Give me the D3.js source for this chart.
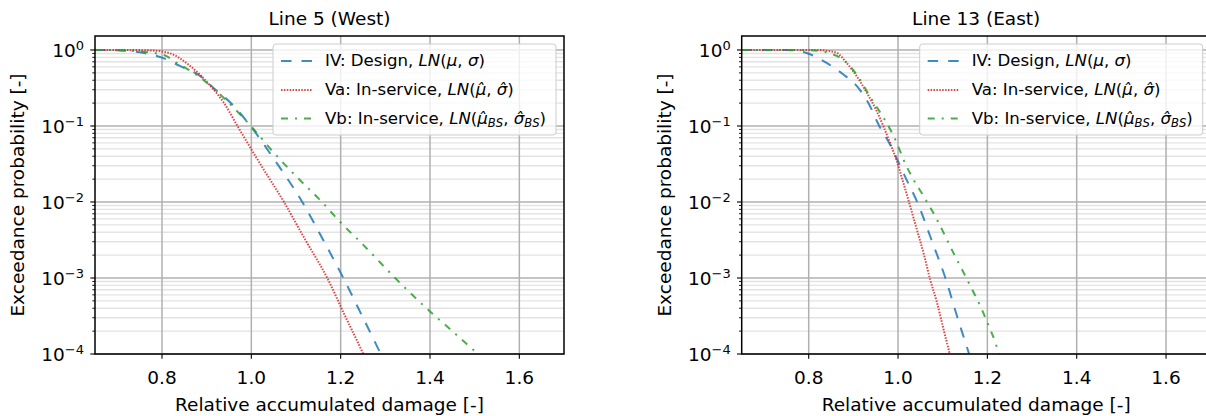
<!DOCTYPE html>
<html>
<head>
<meta charset="utf-8">
<script src="https://cdn.jsdelivr.net/npm/d3@7"></script>
<style>
    body { margin: 0; background: #fff; }
    svg { display: block; font-family: 'DejaVu Sans', sans-serif; }
</style>
</head>
<body>
<div id="vis"></div>
<script>
// Line 5 (West) - relative damage and exceedance probability per curve
const west_iv_d = [0.65, 0.70, 0.75, 0.80, 0.84, 0.885, 0.923, 0.953, 0.998, 1.05, 1.114, 1.16, 1.206, 1.25, 1.288, 1.31];
const west_iv_p = [1.0, 0.989, 0.933, 0.794, 0.617, 0.457, 0.288, 0.204, 0.1, 0.0372, 0.01, 0.00324, 0.001, 0.0003, 0.000105, 0.000056];
const west_va_d = [0.65, 0.72, 0.77, 0.80, 0.818, 0.863, 0.908, 0.938, 0.969, 1.02, 1.073, 1.12, 1.17, 1.21, 1.249, 1.27];
const west_va_p = [1.0, 1.0, 0.989, 0.955, 0.904, 0.617, 0.339, 0.204, 0.1, 0.0316, 0.01, 0.00324, 0.001, 0.000316, 0.000105, 0.000056];
const west_vb_d = [0.65, 0.70, 0.75, 0.804, 0.833, 0.878, 0.908, 0.945, 0.999, 1.05, 1.10, 1.158, 1.20, 1.25, 1.322, 1.40, 1.45, 1.503, 1.53];
const west_vb_p = [1.0, 0.993, 0.955, 0.859, 0.676, 0.468, 0.339, 0.214, 0.1, 0.0447, 0.0219, 0.01, 0.00537, 0.00275, 0.001, 0.000363, 0.0002, 0.000105, 0.000074];

// Line 13 (East)
const east_iv_d = [0.65, 0.75, 0.77, 0.80, 0.84, 0.877, 0.907, 0.933, 0.958, 0.98, 1.002, 1.02, 1.043, 1.075, 1.106, 1.132, 1.158, 1.17];
const east_iv_p = [1.0, 1.0, 0.982, 0.891, 0.676, 0.479, 0.339, 0.204, 0.1, 0.0603, 0.0324, 0.0191, 0.01, 0.00316, 0.001, 0.000316, 0.000105, 0.000063];
const east_va_d = [0.65, 0.82, 0.84, 0.862, 0.885, 0.907, 0.93, 0.952, 0.967, 0.982, 0.997, 1.012, 1.027, 1.042, 1.057, 1.072, 1.087, 1.102, 1.115, 1.125];
const east_va_p = [1.0, 1.0, 0.977, 0.923, 0.676, 0.457, 0.275, 0.158, 0.1, 0.0603, 0.0347, 0.0178, 0.0089, 0.00437, 0.00214, 0.00095, 0.00048, 0.00021, 0.000105, 0.000063];
const east_vb_d = [0.65, 0.78, 0.82, 0.85, 0.87, 0.892, 0.915, 0.937, 0.96, 0.982, 0.997, 1.012, 1.034, 1.057, 1.087, 1.124, 1.147, 1.169, 1.184, 1.203, 1.218, 1.225, 1.235];
const east_vb_p = [1.0, 1.0, 0.977, 0.891, 0.794, 0.617, 0.407, 0.245, 0.151, 0.0912, 0.0603, 0.0363, 0.02, 0.012, 0.00589, 0.00214, 0.00117, 0.00065, 0.00043, 0.000234, 0.000141, 0.000105, 0.000076];

const titles = ['Line 5 (West)', 'Line 13 (East)'];
const x_ticks = [0.8, 1.0, 1.2, 1.4, 1.6];
const y_exponents = [0, -1, -2, -3, -4];

const width = 1206;
const height = 416;
const ax_w = 469;
const ax_top = 36;
const ax_bottom = 354;
const lefts = [95, 741.7];

const styles = [
    { color: '#1f77b4', dash: '10.5,10' },
    { color: '#d62728', dash: '1.5,1.4' },
    { color: '#2ca02c', dash: '7,7,2,7' }
];

const svg = d3.select('#vis')
    .append('svg')
    .attr('width', width)
    .attr('height', height);

function zip(d, p) {
    return d.map((v, i) => [v, p[i]]);
}

const panels = [
    [zip(west_iv_d, west_iv_p), zip(west_va_d, west_va_p), zip(west_vb_d, west_vb_p)],
    [zip(east_iv_d, east_iv_p), zip(east_va_d, east_va_p), zip(east_vb_d, east_vb_p)]
];

function addLegendText(txt, parts) {
    parts.forEach(p => {
        const t = txt.append('tspan').text(p.s);
        if (p.it) t.attr('font-style', 'italic');
        if (p.sub) t.attr('font-size', '11.6px').attr('dy', 3.5);
        if (p.up) t.attr('dy', -3.5);
    });
}

const legend_parts = [
    [{ s: 'IV: Design, ' }, { s: 'LN', it: 1 }, { s: '(' }, { s: 'μ', it: 1 }, { s: ', ' }, { s: 'σ', it: 1 }, { s: ')' }],
    [{ s: 'Va: In-service, ' }, { s: 'LN', it: 1 }, { s: '(' }, { s: 'μ\u0302', it: 1 }, { s: ', ' }, { s: 'σ\u0302', it: 1 }, { s: ')' }],
    [{ s: 'Vb: In-service, ' }, { s: 'LN', it: 1 }, { s: '(' }, { s: 'μ\u0302', it: 1 }, { s: 'BS', it: 1, sub: 1 },
        { s: ', ', up: 1 }, { s: 'σ\u0302', it: 1 }, { s: 'BS', it: 1, sub: 1 }, { s: ')', up: 1 }]
];

function renderPanel(k) {
    const left = lefts[k];
    const right = left + ax_w;
    const x = d3.scaleLinear().domain([0.65, 1.7]).range([left, right]);
    const y = d3.scaleLog().domain([1e-4, Math.pow(10, 0.184)]).range([ax_bottom, ax_top]);
    const g = svg.append('g');

    // minor grid
    const minor = [];
    for (let e = -4; e < 0; e++) {
        for (let m = 2; m <= 9; m++) minor.push(m * Math.pow(10, e));
    }
    g.selectAll('.minor').data(minor).enter().append('line')
        .attr('x1', left).attr('x2', right)
        .attr('y1', d => y(d)).attr('y2', d => y(d))
        .attr('stroke', '#e3e3e3')
        .attr('stroke-width', 1.4);

    // major grid
    g.selectAll('.gy').data(y_exponents).enter().append('line')
        .attr('x1', left).attr('x2', right)
        .attr('y1', d => y(Math.pow(10, d))).attr('y2', d => y(Math.pow(10, d)))
        .attr('stroke', '#b0b0b0')
        .attr('stroke-width', 1.5);
    g.selectAll('.gx').data(x_ticks).enter().append('line')
        .attr('x1', d => x(d)).attr('x2', d => x(d))
        .attr('y1', ax_top).attr('y2', ax_bottom)
        .attr('stroke', '#b0b0b0')
        .attr('stroke-width', 1.5);

    // curves
    const clipId = 'clip' + k;
    svg.append('clipPath').attr('id', clipId)
        .append('rect')
        .attr('x', left).attr('y', ax_top)
        .attr('width', ax_w).attr('height', ax_bottom - ax_top);

    const line = d3.line()
        .x(d => x(d[0]))
        .y(d => y(d[1]))
        .curve(d3.curveMonotoneX);

    panels[k].forEach((s, i) => {
        g.append('path')
            .attr('d', line(s))
            .attr('clip-path', 'url(#' + clipId + ')')
            .attr('fill', 'none')
            .attr('stroke', styles[i].color)
            .attr('stroke-opacity', 0.85)
            .attr('stroke-width', 2)
            .attr('stroke-dasharray', styles[i].dash);
    });

    // legend
    const lx = right - 8 - 283;
    g.append('rect')
        .attr('x', lx).attr('y', 44)
        .attr('width', 283).attr('height', 91)
        .attr('rx', 3)
        .attr('fill', 'white')
        .attr('fill-opacity', 0.8)
        .attr('stroke', '#cccccc')
        .attr('stroke-width', 1);
    const rows = [61, 90, 118.5];
    rows.forEach((ry, i) => {
        g.append('line')
            .attr('x1', lx + 8).attr('x2', lx + 39)
            .attr('y1', ry).attr('y2', ry)
            .attr('stroke', styles[i].color)
            .attr('stroke-opacity', 0.85)
            .attr('stroke-width', 2)
            .attr('stroke-dasharray', styles[i].dash);
        const txt = g.append('text')
            .attr('x', lx + 52)
            .attr('y', ry + 5)
            .attr('font-size', '16.6px')
            .attr('fill', 'black');
        addLegendText(txt, legend_parts[i]);
    });

    // spines
    g.append('rect')
        .attr('x', left).attr('y', ax_top)
        .attr('width', ax_w).attr('height', ax_bottom - ax_top)
        .attr('fill', 'none')
        .attr('stroke', 'black')
        .attr('stroke-width', 1.5);

    // y ticks
    g.selectAll('.ymin').data(minor).enter().append('line')
        .attr('x1', left - 2.7).attr('x2', left)
        .attr('y1', d => y(d)).attr('y2', d => y(d))
        .attr('stroke', 'black')
        .attr('stroke-width', 0.9);
    y_exponents.forEach(e => {
        const yy = y(Math.pow(10, e));
        g.append('line')
            .attr('x1', left - 4.7).attr('x2', left)
            .attr('y1', yy).attr('y2', yy)
            .attr('stroke', 'black')
            .attr('stroke-width', 1.1);
        const t = g.append('text')
            .attr('x', left - 11)
            .attr('y', yy + 7.3)
            .attr('text-anchor', 'end')
            .attr('font-size', '18.5px')
            .attr('fill', 'black');
        t.append('tspan').text('10');
        t.append('tspan')
            .attr('font-size', '13px')
            .attr('dy', -7.5)
            .text(e === 0 ? '0' : '\u2212' + (-e));
    });

    // x ticks
    x_ticks.forEach(v => {
        g.append('line')
            .attr('x1', x(v)).attr('x2', x(v))
            .attr('y1', ax_bottom).attr('y2', ax_bottom + 4.7)
            .attr('stroke', 'black')
            .attr('stroke-width', 1.1);
        g.append('text')
            .attr('x', x(v))
            .attr('y', 384)
            .attr('text-anchor', 'middle')
            .attr('font-size', '18.5px')
            .attr('fill', 'black')
            .text(v.toFixed(1));
    });

    // labels
    g.append('text')
        .attr('x', (left + right) / 2)
        .attr('y', 411)
        .attr('text-anchor', 'middle')
        .attr('font-size', '18.5px')
        .attr('fill', 'black')
        .text('Relative accumulated damage [-]');

    g.append('text')
        .attr('transform', 'translate(' + (left - 71) + ',' + ((ax_top + ax_bottom) / 2) + ') rotate(-90)')
        .attr('text-anchor', 'middle')
        .attr('font-size', '18.5px')
        .attr('fill', 'black')
        .text('Exceedance probability [-]');

    g.append('text')
        .attr('x', (left + right) / 2)
        .attr('y', 25)
        .attr('text-anchor', 'middle')
        .attr('font-size', '18.5px')
        .attr('fill', 'black')
        .text(titles[k]);
}

renderPanel(0);
renderPanel(1);
</script>
</body>
</html>
